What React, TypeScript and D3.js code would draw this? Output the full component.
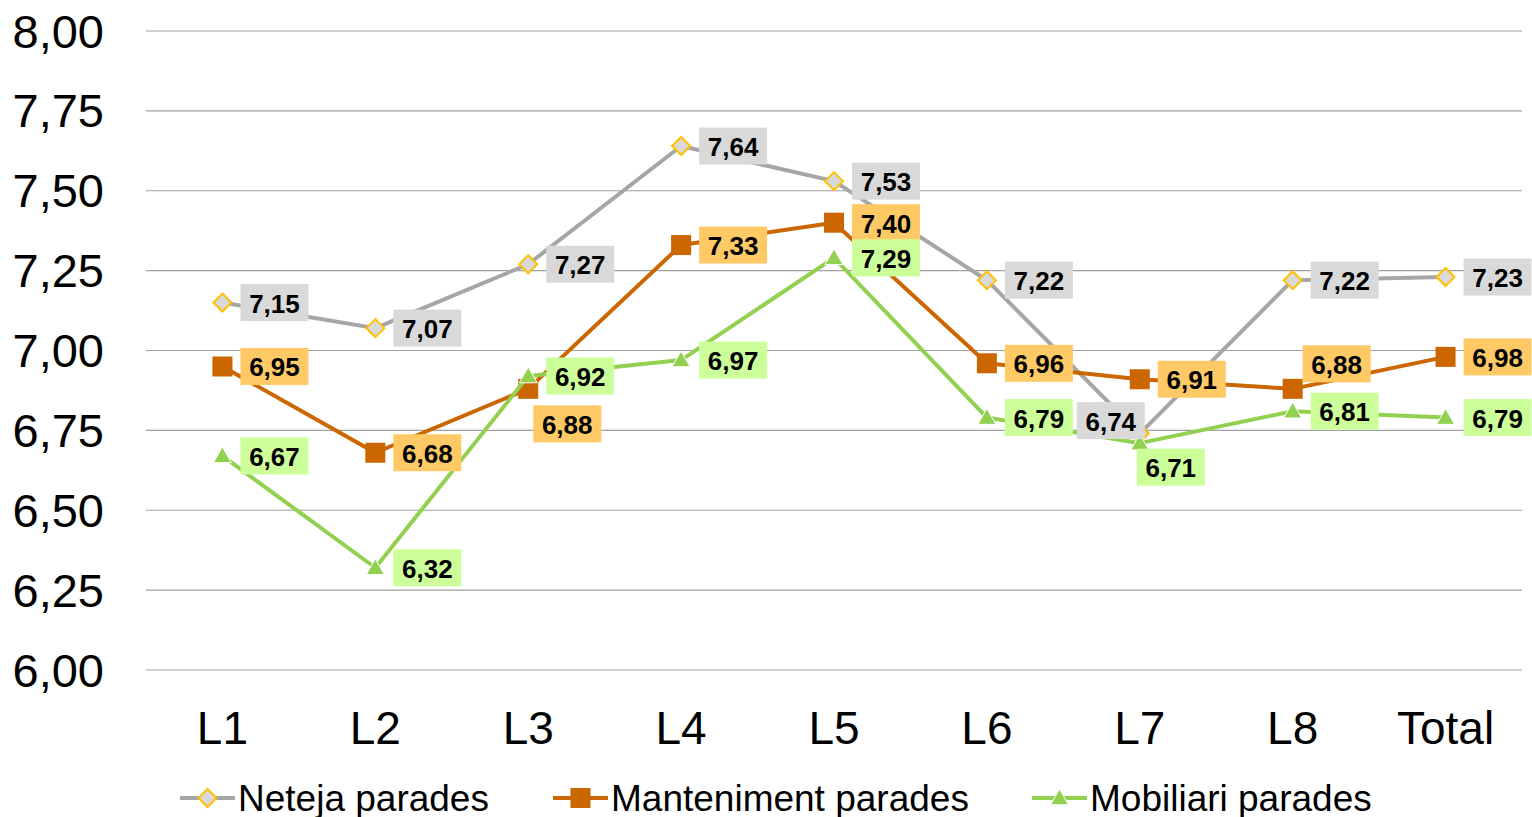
import React from "react";
import * as d3 from "d3";

const categories = ["L1", "L2", "L3", "L4", "L5", "L6", "L7", "L8", "Total"];
const netejaValues = [7.15, 7.07, 7.27, 7.64, 7.53, 7.22, 6.74, 7.22, 7.23];
const mantenimentValues = [6.95, 6.68, 6.88, 7.33, 7.4, 6.96, 6.91, 6.88, 6.98];
const mobiliariValues = [6.67, 6.32, 6.92, 6.97, 7.29, 6.79, 6.71, 6.81, 6.79];
const yTicks = [6, 6.25, 6.5, 6.75, 7, 7.25, 7.5, 7.75, 8];

type Placement = "right" | "left" | "below" | "belowRight" | "aboveRight";

const series = [
  {
    name: "Neteja parades",
    values: netejaValues,
    line: "#A6A6A6",
    marker: "diamond",
    box: "#D9D9D9",
    placement: ["right", "right", "right", "right", "right", "right", "left", "right", "right"] as Placement[],
  },
  {
    name: "Manteniment parades",
    values: mantenimentValues,
    line: "#CC6600",
    marker: "square",
    box: "#FFC966",
    placement: ["right", "right", "below", "right", "right", "right", "right", "aboveRight", "right"] as Placement[],
  },
  {
    name: "Mobiliari parades",
    values: mobiliariValues,
    line: "#92D050",
    marker: "triangle",
    box: "#CCFF99",
    placement: ["right", "right", "right", "right", "right", "right", "belowRight", "right", "right"] as Placement[],
  },
];

const W = 1532;
const H = 817;
const left = 146;
const right = 1522;
const top = 31;
const bottom = 670;

const fmt = (v: number) => v.toFixed(2).replace(".", ",");

function Marker({ kind, x, y }: { kind: string; x: number; y: number }) {
  if (kind === "diamond") {
    const r = 9;
    return (
      <path
        d={`M${x},${y - r}L${x + r},${y}L${x},${y + r}L${x - r},${y}Z`}
        fill="#D9D9D9"
        stroke="#FFC000"
        strokeWidth={2}
      />
    );
  }
  if (kind === "square") {
    return <rect x={x - 10} y={y - 10} width={20} height={20} fill="#CC6600" />;
  }
  const r = 9;
  return (
    <path
      d={`M${x},${y - r}L${x + r},${y + r * 0.75}L${x - r},${y + r * 0.75}Z`}
      fill="#92D050"
      stroke="#ffffff"
      strokeWidth={1}
    />
  );
}

export default function App() {
  const x = d3.scaleBand<string>().domain(categories).range([left, right]);
  const y = d3.scaleLinear().domain([6, 8]).range([bottom, top]);
  const cx = (c: string) => (x(c) ?? 0) + x.bandwidth() / 2;
  const line = d3
    .line<number>()
    .x((_, i) => cx(categories[i]))
    .y((v) => y(v));

  const boxW = 68;
  const boxH = 37;

  const boxPos = (px: number, py: number, p: Placement) => {
    if (p === "left") return { bx: px + 5 - boxW, by: py - 13 - boxH / 2 };
    if (p === "below") return { bx: px + 5, by: py + 35 - boxH / 2 };
    if (p === "belowRight") return { bx: px - 3, by: py + 24 - boxH / 2 };
    if (p === "aboveRight") return { bx: px + 10, by: py - 25 - boxH / 2 };
    return { bx: px + 18, by: py - boxH / 2 };
  };

  const legendItems = [
    { s: series[0], x0: 180 },
    { s: series[1], x0: 553 },
    { s: series[2], x0: 1032 },
  ];

  return (
    <svg
      width={W}
      height={H}
      style={{ position: "absolute", left: 0, top: 0, background: "#fff" }}
      fontFamily="Liberation Sans, Arial, sans-serif"
    >
      {yTicks.map((t) => (
        <g key={t}>
          <line x1={left} x2={right} y1={y(t)} y2={y(t)} stroke="#A0A0A0" strokeWidth={1.2} />
          <text x={104} y={y(t)} textAnchor="end" dominantBaseline="central" fontSize={47} fill="#000">
            {fmt(t)}
          </text>
        </g>
      ))}
      {categories.map((c) => (
        <text key={c} x={cx(c)} y={728} textAnchor="middle" dominantBaseline="central" fontSize={46} fill="#000">
          {c}
        </text>
      ))}

      {series.map((s) => (
        <g key={s.name}>
          <path d={line(s.values) ?? ""} fill="none" stroke={s.line} strokeWidth={4} strokeLinejoin="round" />
          {s.values.map((v, i) => (
            <Marker key={i} kind={s.marker} x={cx(categories[i])} y={y(v)} />
          ))}
        </g>
      ))}

      {series.map((s) => (
        <g key={s.name + "-labels"}>
          {s.values.map((v, i) => {
            const { bx, by } = boxPos(cx(categories[i]), y(v), s.placement[i]);
            return (
              <g key={i}>
                <rect x={bx} y={by} width={boxW} height={boxH} fill={s.box} />
                <text
                  x={bx + boxW / 2}
                  y={by + boxH / 2 + 1}
                  textAnchor="middle"
                  dominantBaseline="central"
                  fontSize={26}
                  fontWeight="bold"
                  fill="#000"
                >
                  {fmt(v)}
                </text>
              </g>
            );
          })}
        </g>
      ))}

      {legendItems.map(({ s, x0 }) => (
        <g key={s.name + "-legend"}>
          <line x1={x0} x2={x0 + 55} y1={798} y2={798} stroke={s.line} strokeWidth={4} />
          <Marker kind={s.marker} x={x0 + 27.5} y={798} />
          <text x={x0 + 58} y={798} dominantBaseline="central" fontSize={37} fill="#000">
            {s.name}
          </text>
        </g>
      ))}
    </svg>
  );
}
